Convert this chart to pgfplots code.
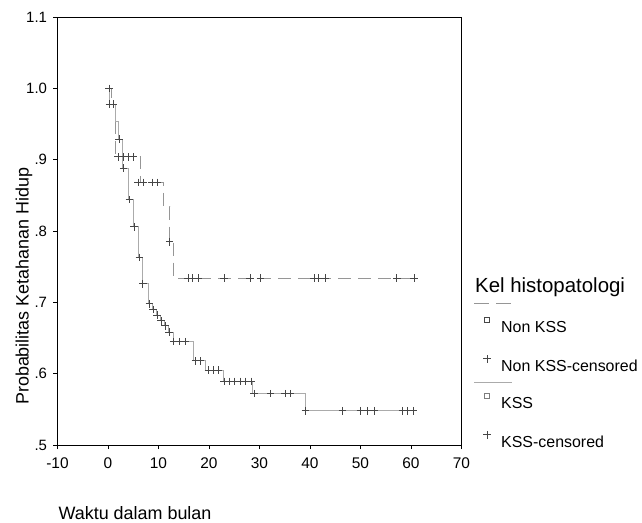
\documentclass[border=0pt]{standalone}
\usepackage{fontspec}
\setmainfont{Liberation Sans}
\usepackage{pgfplots}
\pgfplotsset{compat=1.18}
\definecolor{linegray}{RGB}{150,150,150}
\definecolor{markgray}{RGB}{70,70,70}
\pgfplotstableread{
x y
0 1.0
0.6 0.978
1.4 0.904
6.4 0.868
11.0 0.834
12.2 0.785
13.0 0.734
61.3 0.734
}\nonkssline
\pgfplotstableread{
x y
0.2 1.0
2.0 0.904
3.0 0.904
4.0 0.904
5.0 0.904
6.0 0.868
7.0 0.868
8.7 0.868
9.7 0.868
12.2 0.785
15.9 0.734
16.8 0.734
17.9 0.734
23.0 0.734
28.1 0.734
30.2 0.734
40.8 0.734
41.7 0.734
43.1 0.734
57.2 0.734
60.6 0.734
}\nonksscens
\pgfplotstableread{
x y
0 1.0
0.3 0.978
1.4 0.953
2.0 0.929
2.8 0.888
4.0 0.844
5.0 0.806
6.0 0.763
6.9 0.726
8.0 0.698
8.8 0.690
9.6 0.682
10.4 0.674
11.2 0.667
12.0 0.658
12.9 0.645
16.9 0.618
19.3 0.605
22.9 0.589
28.7 0.572
39.1 0.548
60.9 0.548
}\kssline
\pgfplotstableread{
x y
0.3 0.978
1.0 0.978
2.2 0.929
3.1 0.888
4.25 0.844
5.2 0.806
6.2 0.763
6.9 0.726
8.2 0.698
8.9 0.690
9.7 0.682
10.5 0.674
11.3 0.667
12.1 0.658
13.0 0.645
14.1 0.645
15.3 0.645
17.3 0.618
18.3 0.618
19.9 0.605
20.9 0.605
21.9 0.605
23.0 0.589
24.1 0.589
25.1 0.589
26.2 0.589
27.3 0.589
28.4 0.589
28.9 0.572
32.2 0.572
35.1 0.572
36.1 0.572
39.1 0.548
46.4 0.548
50.0 0.548
51.3 0.548
52.7 0.548
58.3 0.548
59.3 0.548
60.5 0.548
}\ksscens
\begin{document}
\begin{tikzpicture}
\begin{axis}[
  scale only axis, width=404bp, height=428bp,
  clip=false,
  xmin=-10, xmax=70, ymin=0.5, ymax=1.1,
  xtick={-10,0,10,20,30,40,50,60,70},
  xticklabels={-10,0,10,20,30,40,50,60,70},
  ytick={0.5,0.6,0.7,0.8,0.9,1.0,1.1},
  yticklabels={.5,.6,.7,.8,.9,1.0,1.1},
  tick align=outside, tick pos=left, major tick length=4bp,
  tick style={black, line width=0.8bp},
  axis line style={black, line width=1bp},
  xticklabel style={font=\fontsize{15.5}{15.5}\selectfont, yshift=-5bp},
  yticklabel style={font=\fontsize{15}{15}\selectfont, xshift=-3bp},
  xlabel={Waktu dalam bulan},
  ylabel={Probabilitas Ketahanan Hidup},
  xlabel style={font=\fontsize{18}{18}\selectfont, at={(rel axis cs:-0.006,-0.159)}, anchor=west},
  ylabel style={font=\fontsize{18}{18}\selectfont, at={(rel axis cs:-0.083,0.371)}, anchor=center},
  legend style={at={(rel axis cs:1.031,0.299)}, anchor=north west, draw=none, fill=none,
    font=\fontsize{16}{16}\selectfont, row sep=19bp, inner sep=0pt,
    nodes={inner sep=1bp}},
  legend cell align=left,
]
\addplot[const plot, color=linegray, line width=0.9bp, dash pattern=on 13bp off 7bp, forget plot] table {\nonkssline};
\addplot[only marks, mark=+, mark size=3.8bp, color=markgray, line width=0.8bp, forget plot] table {\nonksscens};
\addplot[const plot, color=linegray!80, line width=0.9bp, forget plot] table {\kssline};
\addplot[only marks, mark=+, mark size=3.8bp, color=markgray, line width=0.8bp, forget plot] table {\ksscens};
\addlegendimage{legend image code/.code={
  \draw[linegray, line width=0.9bp, dash pattern=on 15bp off 7bp, overlay] (0bp,25bp) -- (38bp,25bp);
  \path[draw=none] (0bp,0bp) -- (26bp,0bp);
  \draw[markgray, line width=0.6bp, solid] (10.5bp,5.5bp) rectangle (15.5bp,10.5bp);}}
\addlegendentry{Non KSS}
\addlegendimage{legend image code/.code={
  \path[draw=none] (0bp,0bp) -- (26bp,0bp);
  \draw[markgray, line width=0.8bp] (9bp,8bp) -- (17bp,8bp) (13bp,4bp) -- (13bp,12bp);}}
\addlegendentry{Non KSS-censored}
\addlegendimage{legend image code/.code={
  \draw[linegray!80, line width=0.9bp, overlay] (0bp,22bp) -- (38bp,22bp);
  \path[draw=none] (0bp,0bp) -- (26bp,0bp);
  \draw[markgray!70, line width=0.6bp] (10.5bp,5.5bp) rectangle (15.5bp,10.5bp);}}
\addlegendentry{KSS}
\addlegendimage{legend image code/.code={
  \path[draw=none] (0bp,0bp) -- (26bp,0bp);
  \draw[markgray, line width=0.8bp] (9bp,8bp) -- (17bp,8bp) (13bp,4bp) -- (13bp,12bp);}}
\addlegendentry{KSS-censored}
\node[anchor=west, font=\fontsize{20.5}{20.5}\selectfont, inner sep=0pt] at (rel axis cs:1.0334,0.369) {Kel histopatologi};
\end{axis}
\path[use as bounding box] (-57.5bp,-76bp) rectangle (584.5bp,445bp);
\end{tikzpicture}
\end{document}
